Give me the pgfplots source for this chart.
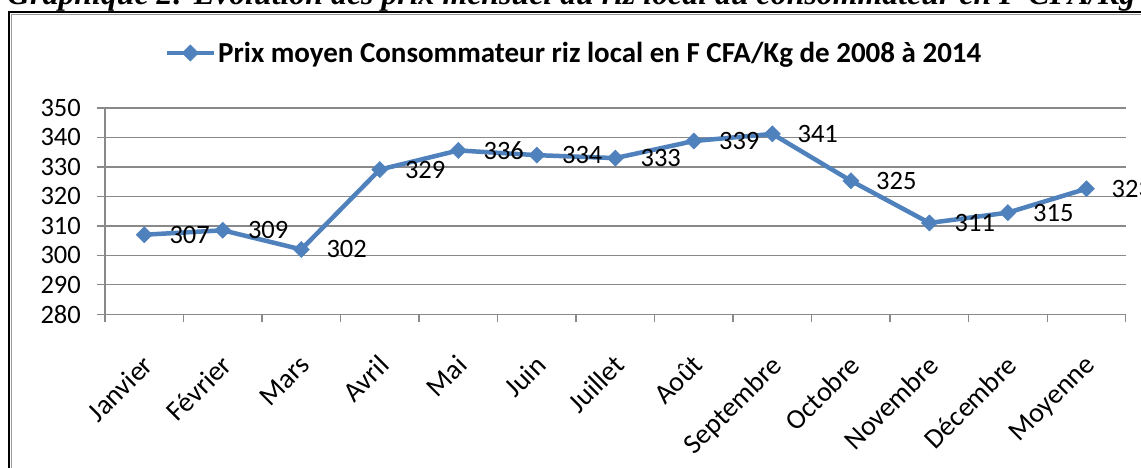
\documentclass[border=0pt]{standalone}
\usepackage{graphicx}
\usepackage{fontspec}
\setmainfont{Carlito}
\newfontfamily\titlefont{Liberation Serif}
\usepackage{pgfplots}
\pgfplotsset{compat=1.18}
\definecolor{xlblue}{HTML}{4F81BD}
\definecolor{xlgrid}{HTML}{898989}
\begin{document}
\begin{tikzpicture}[x=1pt,y=1pt]
\useasboundingbox (0,0) rectangle (1141,468);
\fill[white] (0,0) rectangle (1141,468);
% frame
\draw[black, line width=2.2pt] (9,0) -- (9,456) -- (1160,456);
\draw[black!40, line width=1.2pt] (11.5,0) -- (11.5,453.5) -- (1160,453.5);
% title (cropped at top)
\node[anchor=base west, inner sep=0pt] at (7,463) {\resizebox{1128pt}{!}{\titlefont\bfseries\itshape Graphique 2: Evolution des prix mensuel du riz local au consommateur en F CFA/Kg}};
\begin{axis}[
  at={(105pt,153.7pt)}, anchor=south west,
  scale only axis, width=1020.7pt, height=206.3pt,
  xmin=-0.5, xmax=12.5, ymin=280, ymax=350,
  axis x line*=bottom, axis y line*=left,
  axis line style={-, draw=xlgrid, line width=1.3pt},
  ytick={280,290,...,350},
  ymajorgrids, grid style={draw=xlgrid, line width=1.3pt},
  tick align=outside,
  major tick length=8pt, minor tick length=8pt,
  every tick/.style={draw=xlgrid, line width=1.3pt},
  xtick={0,...,12},
  major x tick style={draw=none},
  minor xtick={-0.5,0.5,...,12.5},
  xticklabels={Janvier,Février,Mars,Avril,Mai,Juin,Juillet,Août,Septembre,Octobre,Novembre,Décembre,Moyenne},
  xticklabel style={font=\fontsize{28}{33}\selectfont, inner sep=0pt, shift={(-3pt,-31pt)}, rotate=45, anchor=north east},
  yticklabel style={font=\fontsize{26.5}{31}\selectfont, inner sep=0pt, xshift=-16pt},
  /pgf/number format/assume math mode=true,
  legend style={at={(0.4595,1.2666)}, anchor=center, draw=none, fill=none, font=\bfseries\fontsize{29}{34}\selectfont},
  legend image code/.code={\draw[mark repeat=2,mark phase=2,#1] plot coordinates {(0pt,0pt) (23.5pt,0pt) (47pt,0pt)};},
  clip=false,
]
\addplot[xlblue, line width=4.5pt, mark=square*, mark size=5.7pt, mark options={rotate=45, solid, fill=xlblue, draw=xlblue, line width=0.5pt},
  nodes near coords, point meta=explicit symbolic,
  every node near coord/.style={anchor=west, inner sep=0pt, xshift=25pt, font=\fontsize{26.5}{31}\selectfont, text=black}]
  table[meta=lab] {
x y lab
0 307 307
1 308.5 309
2 302 302
3 329.1 329
4 335.6 336
5 334 334
6 333 333
7 338.8 339
8 341.2 341
9 325.3 325
10 311 311
11 314.5 315
12 322.6 323
};
\addlegendentry{Prix moyen Consommateur riz local en F CFA/Kg de 2008 à 2014}
\end{axis}
\end{tikzpicture}
\end{document}
